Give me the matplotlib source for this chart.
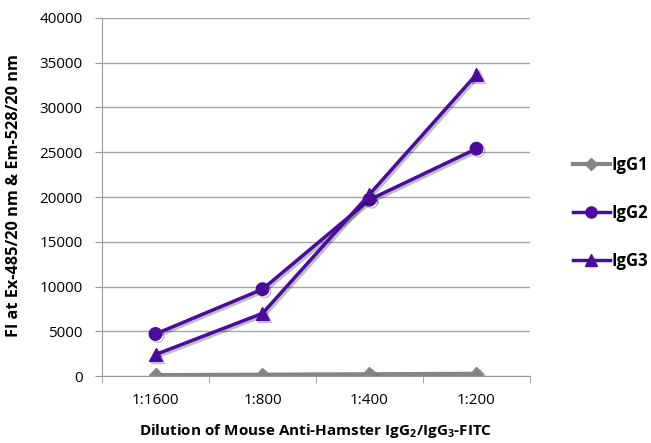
import numpy as np
import matplotlib.pyplot as plt
import matplotlib.patheffects as pe
from matplotlib.lines import Line2D

plt.rcParams['font.family'] = ['Open Sans', 'DejaVu Sans']

dilutions = ["1:1600", "1:800", "1:400", "1:200"]
igg1 = [100, 150, 200, 250]
igg2 = [4700, 9700, 19700, 25400]
igg3 = [2400, 7000, 20300, 33700]

gray = "#858585"
purple = "#4b0c9e"

fig = plt.figure(figsize=(6.51, 4.43), dpi=100)
ax = fig.add_axes([0.1567, 0.1512, 0.6574, 0.8082])

x = np.arange(len(dilutions))
shadow = [pe.SimpleLineShadow(offset=(1.5, -1.5), alpha=0.25), pe.Normal()]

ax.plot(x, igg1, color=gray, lw=3, marker="D", ms=7, path_effects=shadow)
ax.plot(x, igg2, color=purple, lw=2.5, marker="o", ms=9, path_effects=shadow)
ax.plot(x, igg3, color=purple, lw=2.5, marker="^", ms=9, path_effects=shadow)

ax.set_xlim(-0.5, len(dilutions) - 0.5)
ax.set_ylim(0, 40000)
ax.set_yticks(np.arange(0, 40001, 5000))
ax.set_xticks(x, dilutions)
ax.set_xticks(np.arange(-0.5, len(dilutions)), minor=True)
ax.tick_params(axis='x', which='major', length=0, pad=12, labelsize=11)
ax.tick_params(axis='x', which='minor', length=5, color="#999999", direction='out')
ax.tick_params(axis='y', length=5, color="#999999", direction='out', labelsize=11, pad=9)

ax.grid(axis='y', color="#a6a6a6", lw=1)
ax.set_axisbelow(True)
for s in ["top", "right"]:
    ax.spines[s].set_visible(False)
ax.spines["left"].set_color("#999999")
ax.spines["bottom"].set_color("#999999")

ax.set_ylabel("FI at Ex-485/20 nm & Em-528/20 nm", fontsize=11.7, fontweight='bold')
ax.yaxis.set_label_coords(-0.187, 0.503)
ax.set_xlabel("Dilution of Mouse Anti-Hamster IgG$_\\mathregular{2}$/IgG$_\\mathregular{3}$-FITC",
              fontsize=11, fontweight='bold', labelpad=10)

handles = [
    Line2D([], [], color=gray, lw=3, marker="D", ms=6),
    Line2D([], [], color=purple, lw=2.5, marker="o", ms=8),
    Line2D([], [], color=purple, lw=2.5, marker="^", ms=8),
]
leg = fig.legend(handles, ["IgG1", "IgG2", "IgG3"], loc='center left',
                 bbox_to_anchor=(573 / 651, 0.52), bbox_transform=fig.transFigure,
                 frameon=False, borderaxespad=0, borderpad=0,
                 prop={'weight': 'bold', 'size': 12}, labelspacing=1.8, handlelength=2.2,
                 handletextpad=0.1)

fig.savefig("out.png", dpi=100)
